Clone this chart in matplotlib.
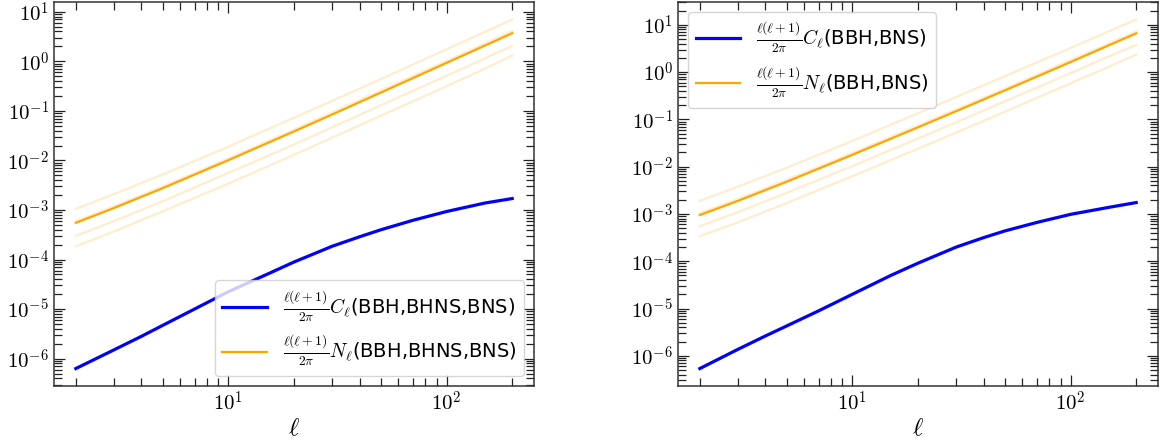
import numpy as np
import matplotlib
matplotlib.use("Agg")
import matplotlib.pyplot as plt
from matplotlib.ticker import FuncFormatter, LogLocator, FixedLocator, NullFormatter

plt.rcParams['mathtext.fontset'] = 'cm'
plt.rcParams['font.family'] = ['DejaVu Sans']

# multipoles for signal and noise curves
ell_c = [2, 3, 4, 5, 7, 10, 15, 20, 30, 40, 50, 70, 100, 150, 200]
ell_n = [2, 3, 5, 10, 20, 30, 50, 100, 150, 200]

# ---- left panel: BBH, BHNS, BNS ----
cl_left = [6.3e-7, 1.51e-6, 2.82e-6, 4.68e-6, 1.0e-5, 2.24e-5, 5.0e-5, 8.9e-5,
           1.86e-4, 2.88e-4, 3.98e-4, 6.17e-4, 9.3e-4, 1.38e-3, 1.70e-3]
nl_left = [5.5e-4, 1.1e-3, 2.75e-3, 1.01e-2, 3.85e-2, 8.5e-2, 0.234, 0.93, 2.08, 3.7]
nl_left_faint = [
    [1.05e-3, 2.1e-3, 5.2e-3, 1.9e-2, 7.3e-2, 0.16, 0.44, 1.75, 3.95, 7.0],
    [6.0e-4, 1.2e-3, 3.0e-3, 1.1e-2, 4.2e-2, 9.4e-2, 0.26, 1.02, 2.3, 4.1],
    [3.0e-4, 6.0e-4, 1.5e-3, 5.6e-3, 2.1e-2, 4.7e-2, 0.13, 0.51, 1.15, 2.05],
    [1.85e-4, 3.7e-4, 9.4e-4, 3.4e-3, 1.3e-2, 2.9e-2, 8.0e-2, 0.315, 0.71, 1.3],
]

# ---- right panel: BBH, BNS ----
cl_right = [5.37e-7, 1.38e-6, 2.63e-6, 4.27e-6, 8.9e-6, 2.0e-5, 5.0e-5, 9.1e-5,
            2.0e-4, 3.16e-4, 4.37e-4, 6.6e-4, 9.8e-4, 1.38e-3, 1.74e-3]
nl_right = [9.5e-4, 1.9e-3, 4.8e-3, 1.78e-2, 6.8e-2, 0.15, 0.41, 1.63, 3.7, 6.6]
nl_right_faint = [
    [1.9e-3, 3.8e-3, 9.5e-3, 3.5e-2, 0.135, 0.3, 0.82, 3.25, 7.3, 13.0],
    [1.05e-3, 2.1e-3, 5.3e-3, 1.95e-2, 7.5e-2, 0.165, 0.45, 1.8, 4.05, 7.3],
    [5.5e-4, 1.1e-3, 2.8e-3, 1.03e-2, 3.95e-2, 8.7e-2, 0.24, 0.95, 2.15, 3.8],
    [3.4e-4, 6.7e-4, 1.7e-3, 6.3e-3, 2.4e-2, 5.3e-2, 0.145, 0.58, 1.3, 2.35],
]

labels_left = [r'$\frac{\ell(\ell+1)}{2\pi}C_\ell$(BBH,BHNS,BNS)',
               r'$\frac{\ell(\ell+1)}{2\pi}N_\ell$(BBH,BHNS,BNS)']
labels_right = [r'$\frac{\ell(\ell+1)}{2\pi}C_\ell$(BBH,BNS)',
                r'$\frac{\ell(\ell+1)}{2\pi}N_\ell$(BBH,BNS)']
x_major = [10, 100]
y_major = [1e-6, 1e-5, 1e-4, 1e-3, 1e-2, 1e-1, 1e0, 1e1]

fig = plt.figure(figsize=(11.67, 4.43), dpi=100)
W, H = 1167.0, 443.0
ax1 = fig.add_axes([54 / W, 57 / H, 480 / W, 384 / H])
ax2 = fig.add_axes([678 / W, 57 / H, 480 / W, 384 / H])

fmt = FuncFormatter(lambda v, p: r'$10^{%d}$' % int(round(np.log10(v))))


def draw(ax, cl, nl, faint, labels, loc):
    for f in faint:
        ax.plot(ell_n, f, color='orange', alpha=0.2, lw=1.6)
    ax.plot(ell_c, cl, color='blue', lw=2.3, label=labels[0])
    ax.plot(ell_n, nl, color='orange', lw=1.6, label=labels[1])
    ax.set_xscale('log')
    ax.set_yscale('log')
    ax.xaxis.set_major_locator(FixedLocator(x_major))
    ax.xaxis.set_major_formatter(fmt)
    ax.xaxis.set_minor_formatter(NullFormatter())
    ax.yaxis.set_major_locator(FixedLocator(y_major))
    ax.yaxis.set_minor_locator(LogLocator(base=10, subs=np.arange(2, 10), numticks=20))
    ax.yaxis.set_major_formatter(fmt)
    ax.yaxis.set_minor_formatter(NullFormatter())
    ax.tick_params(which='both', direction='in', top=True, right=True,
                   labelsize=15, color='#222222', width=0.9)
    ax.tick_params(which='major', length=8)
    ax.tick_params(which='minor', length=5.8)
    for s in ax.spines.values():
        s.set_linewidth(1.1)
        s.set_color('#333333')
    ax.set_xlabel(r'$\ell$', fontsize=18, labelpad=1)
    ax.legend(loc=loc, fontsize=14, handlelength=2.3)


draw(ax1, cl_left, nl_left, nl_left_faint, labels_left, 'lower right')
draw(ax2, cl_right, nl_right, nl_right_faint, labels_right, 'upper left')

fig.savefig('out.png', dpi=100)
